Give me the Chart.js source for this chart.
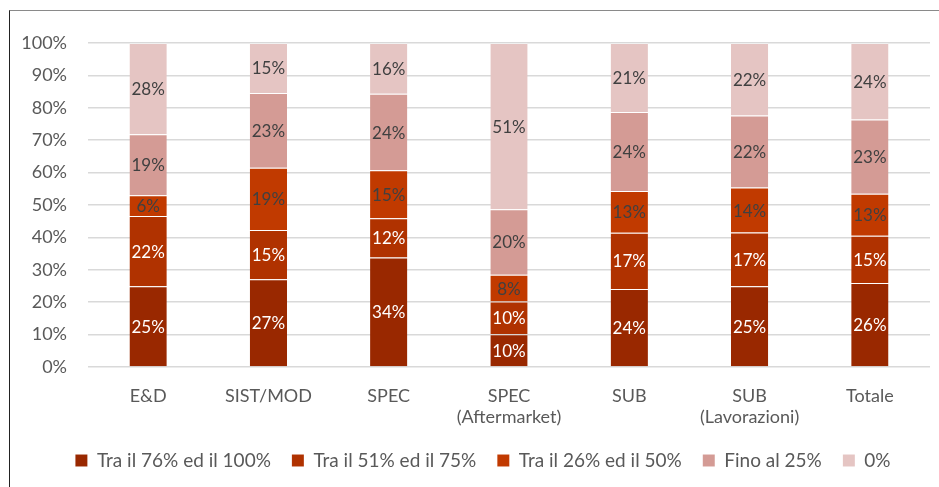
<!DOCTYPE html>
<html>
<head>
<meta charset="utf-8">
<script src="https://cdn.jsdelivr.net/npm/chart.js@4/dist/chart.umd.min.js"></script>
<style>
  html, body { margin: 0; padding: 0; background: #fff; }
  #wrap { position: relative; width: 939px; height: 487px; overflow: hidden; }
  #frame { position: absolute; left: 9px; top: 10px; width: 1000px; height: 600px;
           border-left: 1px solid #222; border-top: 1px solid #8a8a8a; }
  canvas { position: absolute; left: 0; top: 0; }
</style>
</head>
<body>
<div id="wrap">
  <div id="frame"></div>
  <canvas id="c" width="939" height="487"></canvas>
</div>
<script>
const categories = ["E&D", "SIST/MOD", "SPEC", ["SPEC", "(Aftermarket)"], "SUB", ["SUB", "(Lavorazioni)"], "Totale"];
const seriesNames = ["Tra il 76% ed il 100%", "Tra il 51% ed il 75%", "Tra il 26% ed il 50%", "Fino al 25%", "0%"];
const tra76_100 = [24.9, 27.1, 33.8, 10.1, 24.1, 24.9, 25.9];
const tra51_75  = [21.7, 15.2, 12.1, 10.1, 17.3, 16.6, 14.6];
const tra26_50  = [6.4, 19.2, 14.8, 8.3, 12.9, 13.9, 13.0];
const fino25    = [18.8, 23.1, 23.6, 20.2, 24.4, 22.2, 22.9];
const zero      = [28.2, 15.4, 15.7, 51.3, 21.3, 22.4, 23.6];
const yTicks = [0, 10, 20, 30, 40, 50, 60, 70, 80, 90, 100];

const colors = ["#992800", "#B03200", "#C13A00", "#D49B95", "#E5C5C3"];
const labelColors = ["#ffffff", "#ffffff", "#404040", "#404040", "#404040"];
const values = [tra76_100, tra51_75, tra26_50, fino25, zero];

const FONT = "Lato";

const valueLabels = {
  id: "valueLabels",
  afterDatasetsDraw(chart) {
    const ctx = chart.ctx;
    ctx.save();
    ctx.font = "17px " + FONT;
    ctx.textAlign = "center";
    ctx.textBaseline = "middle";
    chart.data.datasets.forEach((ds, i) => {
      const meta = chart.getDatasetMeta(i);
      meta.data.forEach((el, j) => {
        const v = ds.data[j];
        ctx.fillStyle = labelColors[i];
        ctx.fillText(Math.round(v) + "%", el.x, (el.y + el.base) / 2 + 1);
      });
    });
    ctx.restore();
  }
};

const legendShift = {
  id: "legendShift",
  afterLayout(chart) {
    if (chart.legend) { chart.legend.left += 18; chart.legend.right += 18; }
  }
};

new Chart(document.getElementById("c"), {
  type: "bar",
  data: {
    labels: categories,
    datasets: values.map((d, i) => ({
      label: seriesNames[i],
      data: d,
      backgroundColor: colors[i],
      borderColor: "rgba(255,255,255,0.2)",
      borderWidth: { top: 1, left: 0, right: 0, bottom: 0 },
      borderSkipped: false,
      barPercentage: 1,
      categoryPercentage: 0.31
    }))
  },
  options: {
    responsive: false,
    animation: false,
    layout: { padding: { top: 43, right: 9, left: 0, bottom: 7 } },
    plugins: {
      tooltip: { enabled: false },
      legend: {
        position: "bottom",
        labels: {
          boxWidth: 12, boxHeight: 12, padding: 21,
          color: "#595959",
          font: { family: FONT, size: 19 }
        }
      }
    },
    scales: {
      x: {
        stacked: true,
        grid: { display: false },
        border: { display: false },
        ticks: { color: "#595959", font: { family: FONT, size: 18 }, padding: 10, maxRotation: 0 },
        afterFit(s) { s.height = 63; }
      },
      y: {
        stacked: true,
        min: 0, max: 100,
        afterBuildTicks(s) { s.ticks = yTicks.map(v => ({ value: v })); },
        grid: { color: "#d9d9d9", lineWidth: 1.5, drawTicks: false },
        border: { display: false },
        ticks: { color: "#595959", font: { family: FONT, size: 18 }, padding: 21,
                 callback: v => v + "%" },
        afterFit(s) { s.width = 88; }
      }
    }
  },
  plugins: [valueLabels, legendShift]
});
</script>
</body>
</html>
